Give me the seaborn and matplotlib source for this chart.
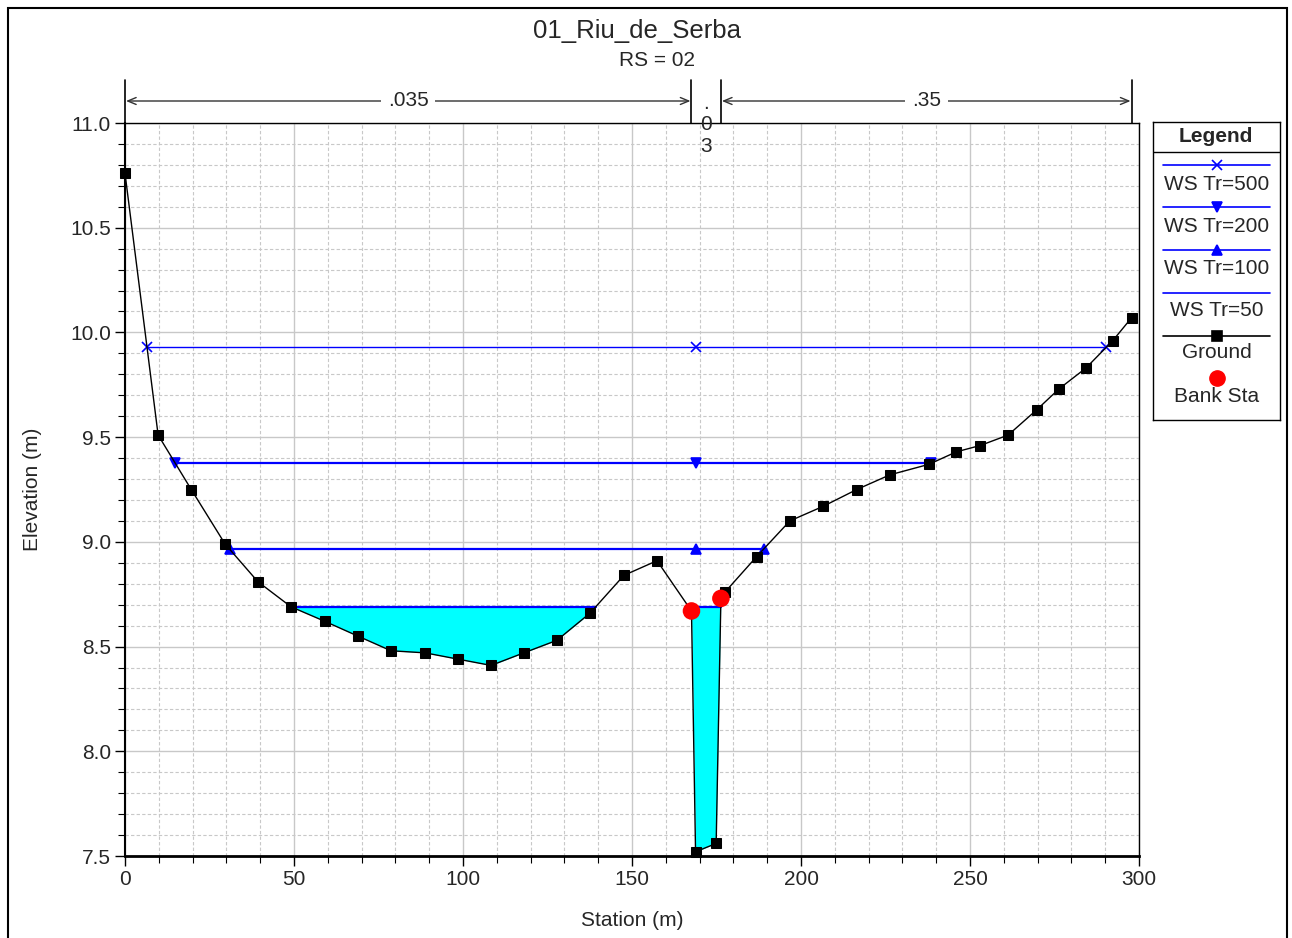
import numpy as np
import pandas as pd
import matplotlib
matplotlib.use("Agg")
import matplotlib.pyplot as plt
import seaborn as sns
from matplotlib.ticker import MultipleLocator, FormatStrFormatter
from matplotlib.patches import Rectangle
import matplotlib.transforms as mtransforms

# ---------------- data ----------------
title = "01_Riu_de_Serba"
subtitle = "RS = 02"

station = [0, 9.8, 19.6, 29.6, 39.3, 49.1, 59.2, 68.9, 78.7, 88.8, 98.5, 108.3,
           118.0, 127.8, 137.6, 147.6, 157.4, 167.6, 168.8, 174.9, 176.3, 177.5,
           186.9, 196.7, 206.6, 216.5, 226.3, 237.8, 246.0, 253.0, 261.3, 269.7,
           276.3, 284.3, 292.2, 297.8]
elevation = [10.76, 9.51, 9.25, 8.99, 8.81, 8.69, 8.62, 8.55, 8.48, 8.47, 8.44, 8.41,
             8.47, 8.53, 8.66, 8.84, 8.91, 8.67, 7.52, 7.56, 8.73, 8.76,
             8.93, 9.10, 9.17, 9.25, 9.32, 9.37, 9.43, 9.46, 9.51, 9.63,
             9.73, 9.83, 9.96, 10.07]

ws_labels = ["WS Tr=500", "WS Tr=200", "WS Tr=100", "WS Tr=50"]
ws_elev = [9.93, 9.375, 8.965, 8.69]
ws_markers = ["x", "v", "^", None]

bank_stations = [167.6, 176.3]

n_breaks = [0, 167.6, 176.3, 297.8]
n_values = [".035", ".03", ".35"]

# ---------------- style ----------------
sns.set_style("white")
plt.rcParams["font.family"] = ["Liberation Sans", "DejaVu Sans"]
FS = 15

W, H = 1292, 938
fig = plt.figure(figsize=(W / 100, H / 100), dpi=100)
ax = fig.add_axes([125 / W, 1 - 856 / H, (1139 - 125) / W, (856 - 123) / H])

ground = pd.DataFrame({"Station": station, "Elevation": elevation})
st = np.array(station, float)
el = np.array(elevation, float)

BLUE = "#0000FF"


def wet_segments(level):
    """Return list of (x0, x1) where the ground lies below the water level."""
    segs = []
    below = el < level - 1e-9
    i = 0
    n = len(st)
    while i < n:
        if below[i]:
            j = i
            while j + 1 < n and below[j + 1]:
                j += 1
            if i > 0:
                x0 = st[i - 1] + (st[i] - st[i - 1]) * (el[i - 1] - level) / (el[i - 1] - el[i])
            else:
                x0 = st[i]
            if j < n - 1:
                x1 = st[j] + (st[j + 1] - st[j]) * (level - el[j]) / (el[j + 1] - el[j])
            else:
                x1 = st[j]
            segs.append((x0, x1))
            i = j + 1
        else:
            i += 1
    return segs


# fill lowest water surface
lvl50 = ws_elev[3]
for a, b in wet_segments(lvl50):
    inner = st[(st > a) & (st < b)]
    xx = np.concatenate([[a], inner, [b]])
    yy = np.interp(xx, st, el)
    ax.fill_between(xx, yy, lvl50, color="#00FFFF", lw=0, zorder=2)

# water surface lines
thalweg = st[np.argmin(el)]
for lab, lvl, mk in zip(ws_labels, ws_elev, ws_markers):
    lw = 1.0 if lab == "WS Tr=500" else 1.6
    for a, b in wet_segments(lvl):
        ax.plot([a, b], [lvl, lvl], color=BLUE, lw=lw, zorder=3)
        if mk is not None:
            ax.plot([a, thalweg, b], [lvl, lvl, lvl], ls="none", marker=mk,
                    color=BLUE, ms=7, mew=1.2, zorder=4)

# ground
sns.lineplot(data=ground, x="Station", y="Elevation", ax=ax, color="black",
             lw=1.0, marker="s", markersize=7.5, markeredgecolor="black",
             sort=False, zorder=5, legend=False, clip_on=False)

# bank stations
banks = pd.DataFrame({"Station": bank_stations,
                      "Elevation": np.interp(bank_stations, st, el)})
sns.scatterplot(data=banks, x="Station", y="Elevation", ax=ax, color="#FF0000",
                s=160, edgecolor="none", zorder=6, legend=False)

# axes
ax.set_xlim(0, 300)
ax.set_ylim(7.5, 11.0)
ax.xaxis.set_major_locator(MultipleLocator(50))
ax.xaxis.set_minor_locator(MultipleLocator(10))
ax.yaxis.set_major_locator(MultipleLocator(0.5))
ax.yaxis.set_minor_locator(MultipleLocator(0.1))
ax.yaxis.set_major_formatter(FormatStrFormatter("%.1f"))
ax.grid(True, which="major", color="#c8c8c8", lw=1.0, ls="-", zorder=0)
ax.grid(True, which="minor", color="#c8c8c8", lw=0.8, ls=(0, (3, 2)), zorder=0)
ax.set_axisbelow(True)
ax.tick_params(axis="both", which="major", direction="out", length=7, width=1,
               color="black", labelsize=FS, bottom=True, left=True, pad=3)
ax.tick_params(axis="both", which="minor", direction="out", length=5, width=0.8,
               color="black", bottom=True, left=True)
for s in ("top", "right"):
    ax.spines[s].set_color("black")
    ax.spines[s].set_linewidth(1.0)
ax.spines["left"].set_color("black")
ax.spines["left"].set_linewidth(1.5)
ax.spines["bottom"].set_color("black")
ax.spines["bottom"].set_linewidth(2.0)
ax.set_xlabel("Station (m)", fontsize=FS, labelpad=16)
ax.set_ylabel("Elevation (m)", fontsize=FS, labelpad=20)

# titles
fig.text(637 / W, 1 - 31 / H, title, ha="center", va="center", fontsize=18.5)
fig.text(657 / W, 1 - 61 / H, subtitle, ha="center", va="center", fontsize=FS)

# Manning's n annotations above the plot
trans = mtransforms.blended_transform_factory(ax.transData, ax.transAxes)
y_top = 1 + 43 / 733
y_arr = 1 + 22 / 733
for xb in n_breaks:
    ax.plot([xb, xb], [1.0, y_top], color="black", lw=1.2, transform=trans,
            clip_on=False, zorder=7)
for (a, b), lab in zip(zip(n_breaks[:-1], n_breaks[1:]), n_values):
    mid = (a + b) / 2
    if b - a < 20:
        ax.text(mid, 1 - 2 / 733, "\n".join(lab), transform=trans, ha="center",
                va="center", fontsize=FS, linespacing=1.15, clip_on=False, zorder=8)
    else:
        ax.annotate("", xy=(a + 0.3, y_arr), xytext=(b - 0.3, y_arr),
                    xycoords=trans, textcoords=trans,
                    arrowprops=dict(arrowstyle="<->,head_length=0.6,head_width=0.25",
                                    color="#333333", lw=1.0, shrinkA=0, shrinkB=0))
        ax.text(mid, y_arr, lab, transform=trans, ha="center", va="center",
                fontsize=FS, clip_on=False, zorder=8,
                bbox=dict(facecolor="white", edgecolor="none", pad=5))

# ---------------- legend (custom box) ----------------
lax = fig.add_axes([1153 / W, 1 - 420 / H, (1280 - 1153) / W, (420 - 122) / H])
lax.set_xlim(1153, 1280)
lax.set_ylim(420, 122)
lax.set_xticks([])
lax.set_yticks([])
for s in lax.spines.values():
    s.set_color("black")
    s.set_linewidth(1.0)
lax.text(1216, 136, "Legend", ha="center", va="center", fontsize=FS, fontweight="bold")
lax.plot([1153, 1280], [152, 152], color="black", lw=1.0)
entries = [
    ("WS Tr=500", BLUE, "x", 165, 184),
    ("WS Tr=200", BLUE, "v", 207, 226),
    ("WS Tr=100", BLUE, "^", 250, 268),
    ("WS Tr=50", BLUE, None, 293, 311),
    ("Ground", "black", "s", 336, 353),
]
for lab, col, mk, yl, yt in entries:
    lax.plot([1163, 1270], [yl, yl], color=col, lw=1.2)
    if mk:
        lax.plot([1216.5], [yl], marker=mk, color=col, ms=6.5,
                 ls="none", mew=1.2)
    lax.text(1216.5, yt, lab, ha="center", va="center", fontsize=FS)
lax.plot([1216.5], [378], marker="o", color="#FF0000", ms=11, ls="none")
lax.text(1216.5, 396, "Bank Sta", ha="center", va="center", fontsize=FS)

# outer frame
fig.patches.append(Rectangle((8 / W, -0.01), (1287 - 8) / W, (938 - 8) / H + 0.01,
                             transform=fig.transFigure, fill=False,
                             edgecolor="black", lw=1.5))

fig.savefig("out.png", dpi=100)
